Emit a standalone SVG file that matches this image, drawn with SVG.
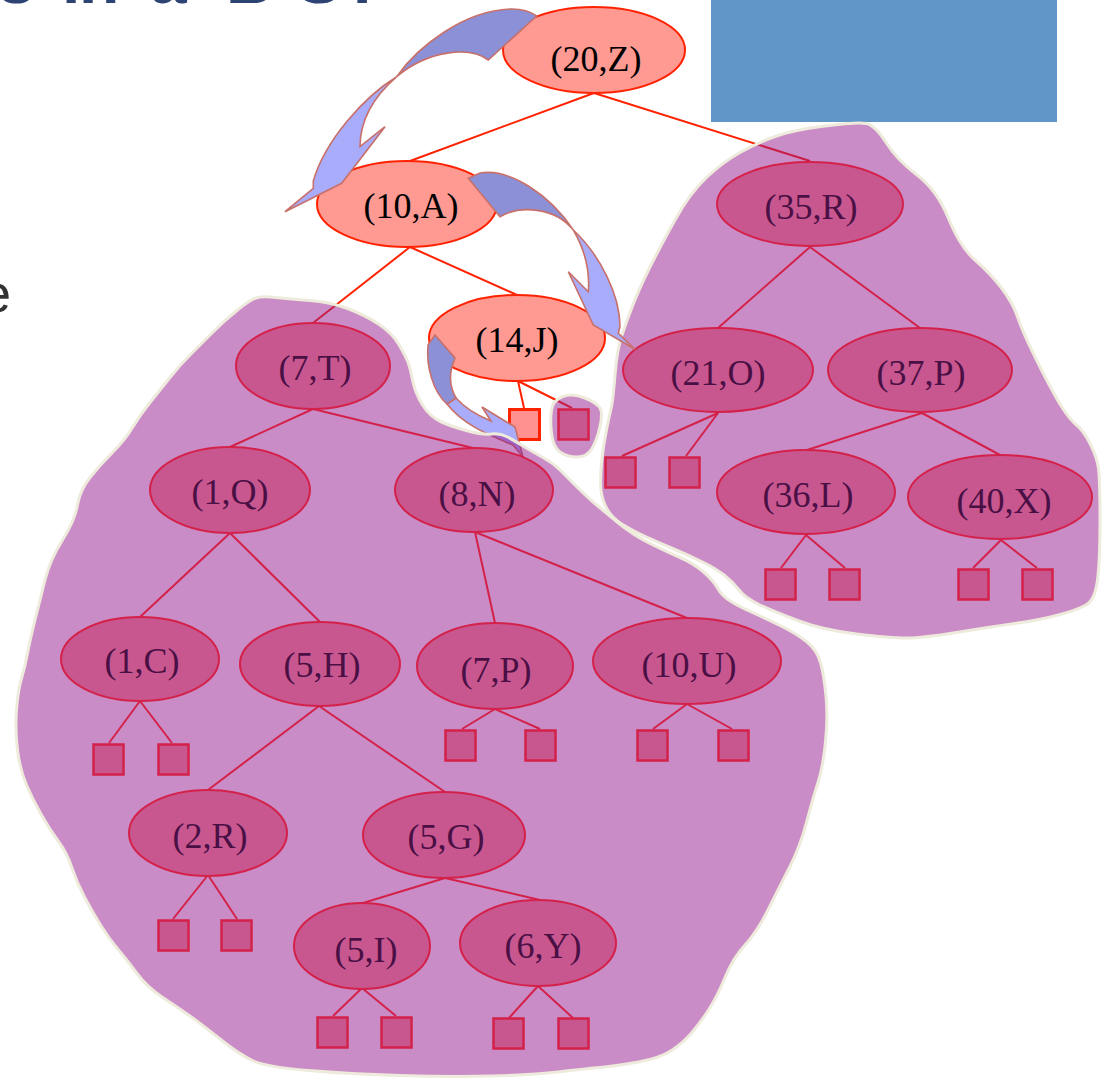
<svg xmlns="http://www.w3.org/2000/svg" width="1102" height="1078" viewBox="0 0 1102 1078">
  <style>
    .title { font-family: "Liberation Sans", Arial, sans-serif; font-weight: bold; font-size: 66px; fill: #2c4373; }
    .body { font-family: "Liberation Sans", Arial, sans-serif; font-size: 54px; fill: #333333; }
    .lbl { font-family: "Liberation Serif", "Times New Roman", serif; font-size: 36px; text-anchor: middle; }
    .hot ellipse { fill: #ff9a93; stroke: #ff2200; stroke-width: 2; }
    .hot text { fill: #000000; }
    .sub ellipse { fill: #c9578f; stroke: #d4214a; stroke-width: 2; }
    .sub text { fill: #4a1045; }
    .leaf { fill: #c9578f; stroke: #d4214a; stroke-width: 2.5; }
    .leafhot { fill: #ff9090; stroke: #ff2200; stroke-width: 3; }
    .edge-hot line { stroke: #ff2200; stroke-width: 2; }
    .edge-sub line { stroke: #d4214a; stroke-width: 2; }
    .blob { fill: #93198d; fill-opacity: 0.5; stroke: #eeeadc; stroke-width: 3; stroke-linejoin: round; }
    .arw-dark { fill: #8c90d6; stroke: #c8706a; stroke-width: 1.6; stroke-linejoin: miter; }
    .arw-light { fill: #a9acfa; stroke: #c8706a; stroke-width: 1.6; stroke-linejoin: miter; }
  </style>

  <!-- slide heading and body text, cropped by the page edge -->
  <text class="title" x="-2 30 62 79 120 150 195 226 297 342" y="3">s in a BST</text>
  <text class="body" x="11" y="312" text-anchor="end">e</text>
  <rect x="711" y="0" width="346" height="122" fill="#6097c8"/>

  <!-- connectors of the search path (the two long ones pass under the shading) -->
  <g id="connectors-top" class="edge-hot">
    <line x1="594" y1="93" x2="410" y2="161"/>
    <line x1="594" y1="93" x2="810" y2="161"/>
    <line x1="410" y1="247" x2="313" y2="323"/>
    <line x1="410" y1="247" x2="517" y2="295"/>
    <line x1="518" y1="381" x2="524" y2="408"/>
    <line x1="518" y1="381" x2="572" y2="408"/>
  </g>

  <!-- search path nodes -->
  <g id="node-20Z" class="hot">
    <ellipse cx="594" cy="50" rx="91" ry="43"/>
    <text class="lbl" x="596" y="71">(20,Z)</text>
  </g>
  <g id="node-10A" class="hot">
    <ellipse cx="407" cy="204" rx="90" ry="43"/>
    <text class="lbl" x="411" y="218">(10,A)</text>
  </g>
  <g id="node-14J" class="hot">
    <ellipse cx="517" cy="338" rx="88" ry="43"/>
    <text class="lbl" x="517" y="352">(14,J)</text>
  </g>
  <g id="leaf-14J-left">
    <rect class="leafhot" x="509.5" y="409.5" width="30" height="30"/>
  </g>

  <!-- walk arrow from (14,J) down toward (8,N), partly under the subtree shading -->
  <g id="arrow-14J">
    <path class="arw-light" d="M447,404 L456,398 C463,406 474,414 491,421 L482,407 L500,418 L515,427 L523,457 L513,445 C492,436 464,426 447,404 Z"/>
    <path class="arw-dark" d="M435,335 L455,358 C449,372 449,386 456,398 L447,404 C433,392 426,366 428,345 Z"/>
  </g>

  <!-- shaded subtrees -->
  <path id="blob-left" class="blob" d="M256,298 Q262,296 276,297.5 Q290,299 310,300.5 Q330,302 347.5,308.5 Q365,315 378.5,324 Q392,333 398.5,344 Q405,355 407.5,361 Q410,367 412.5,380 Q415,393 422.5,405 Q430,417 441.5,422 Q453,427 468,431 Q483,435 491.5,434 Q500,433 506.5,436.5 Q513,440 523,446 Q533,452 543,457.5 Q553,463 560,470 Q567,477 576,486 Q585,495 592.5,501.5 Q600,508 616.5,521.5 Q633,535 650,543.5 Q667,552 680,557.5 Q693,563 703,571.5 Q713,580 717.5,588 Q722,596 731,601.5 Q740,607 753.5,613 Q767,619 782,626.5 Q797,634 807,642 Q817,650 820.5,662.5 Q824,675 826,696 Q828,717 825.5,742 Q823,767 818,782.5 Q813,798 806.5,822.5 Q800,847 790,866.5 Q780,886 768.5,909 Q757,932 745,945 Q733,958 725,977.5 Q717,997 708.5,1010 Q700,1023 691.5,1033 Q683,1043 671.5,1050.5 Q660,1058 638.5,1062 Q617,1066 600,1067.5 Q583,1069 558,1072 Q533,1075 491.5,1076 Q450,1077 400,1075.5 Q350,1074 308.5,1070.5 Q267,1067 253.5,1061 Q240,1055 220,1039 Q200,1023 188.5,1015 Q177,1007 162,997 Q147,987 137,973.5 Q127,960 118.5,950 Q110,940 101.5,926.5 Q93,913 85,898 Q77,883 72,868 Q67,853 58.5,841.5 Q50,830 41.5,815 Q33,800 26.5,785 Q20,770 17.5,750 Q15,730 16.5,710 Q18,690 21.5,678.5 Q25,667 27.5,653.5 Q30,640 35,620 Q40,600 45,580 Q50,560 62.5,540 Q75,520 77.5,505 Q80,490 90,477.5 Q100,465 112.5,452.5 Q125,440 132.5,427.5 Q140,415 150,402.5 Q160,390 170,377.5 Q180,365 190,355 Q200,345 212.5,332.5 Q225,320 237.5,310 Q250,300 256,298 Z"/>
  <path id="blob-right" class="blob" d="M825,126 Q857,122 866,123.5 Q875,125 886,142.5 Q897,160 917,175 Q937,190 948.5,218.5 Q960,247 975,260 Q990,273 1001.5,288 Q1013,303 1018,318 Q1023,333 1038,363 Q1053,393 1061.5,406.5 Q1070,420 1076.5,425 Q1083,430 1090,443.5 Q1097,457 1098.5,468.5 Q1100,480 1100,520 Q1100,560 1097.5,580 Q1095,600 1086,605 Q1077,610 1058.5,615 Q1040,620 1015,623.5 Q990,627 956.5,632.5 Q923,638 906.5,638 Q890,638 856.5,634 Q823,630 799,621 Q775,612 760,605 Q745,598 739,590 Q733,582 724,575 Q715,568 702.5,562 Q690,556 675,549.5 Q660,543 646.5,537 Q633,531 622.5,524.5 Q612,518 607,509 Q602,500 601,490 Q600,480 601.5,463.5 Q603,447 606.5,430 Q610,413 611.5,406.5 Q613,400 615,375 Q617,350 622,335 Q627,320 633.5,303.5 Q640,287 650,267 Q660,247 675,220 Q690,193 706.5,177.5 Q723,162 740,152.5 Q757,143 775,136.5 Q793,130 825,126 Z"/>
  <path id="blob-small" class="blob" d="M551.5,410 Q553,400 563,396.5 Q573,393 585,398 Q597,403 600,408 Q603,413 600,426.5 Q597,440 592,448.5 Q587,457 577,457 Q567,457 560,452 Q553,447 551.5,433.5 Q550,420 551.5,410 Z"/>

  <!-- subtree connectors -->
  <g id="connectors" class="edge-sub">
    <line x1="810" y1="247" x2="718" y2="328"/>
    <line x1="810" y1="247" x2="920" y2="328"/>
    <line x1="718" y1="413" x2="622" y2="456"/>
    <line x1="718" y1="413" x2="686" y2="456"/>
    <line x1="922" y1="413" x2="807" y2="450"/>
    <line x1="922" y1="413" x2="1000" y2="455"/>
    <line x1="806" y1="535" x2="781" y2="568"/>
    <line x1="806" y1="535" x2="845" y2="568"/>
    <line x1="1001" y1="540" x2="973" y2="568"/>
    <line x1="1001" y1="540" x2="1037" y2="568"/>
    <line x1="313" y1="409" x2="230" y2="447"/>
    <line x1="313" y1="409" x2="473" y2="448"/>
    <line x1="230" y1="533" x2="140" y2="617"/>
    <line x1="230" y1="533" x2="320" y2="622"/>
    <line x1="475" y1="532" x2="495" y2="623"/>
    <line x1="475" y1="532" x2="687" y2="618"/>
    <line x1="140" y1="701" x2="109" y2="743"/>
    <line x1="140" y1="701" x2="172" y2="743"/>
    <line x1="319" y1="706" x2="208" y2="790"/>
    <line x1="319" y1="706" x2="445" y2="792"/>
    <line x1="495" y1="709" x2="462" y2="729"/>
    <line x1="495" y1="709" x2="540" y2="729"/>
    <line x1="687" y1="704" x2="653" y2="729"/>
    <line x1="687" y1="704" x2="732" y2="729"/>
    <line x1="208" y1="875" x2="173" y2="919"/>
    <line x1="208" y1="875" x2="237" y2="919"/>
    <line x1="445" y1="878" x2="363" y2="903"/>
    <line x1="445" y1="878" x2="540" y2="900"/>
    <line x1="362" y1="988" x2="333" y2="1016"/>
    <line x1="362" y1="988" x2="396" y2="1016"/>
    <line x1="538" y1="986" x2="509" y2="1018"/>
    <line x1="538" y1="986" x2="573" y2="1018"/>
  </g>

  <!-- right subtree -->
  <g id="node-35R" class="sub"><ellipse cx="810" cy="204" rx="93" ry="42"/><text class="lbl" x="811" y="219">(35,R)</text></g>
  <g id="node-21O" class="sub"><ellipse cx="718" cy="370" rx="95" ry="42"/><text class="lbl" x="718" y="385">(21,O)</text></g>
  <g id="node-37P" class="sub"><ellipse cx="920" cy="370" rx="92" ry="42"/><text class="lbl" x="921" y="385">(37,P)</text></g>
  <g id="node-36L" class="sub"><ellipse cx="806" cy="492" rx="89" ry="42"/><text class="lbl" x="808" y="507">(36,L)</text></g>
  <g id="node-40X" class="sub"><ellipse cx="1000" cy="497" rx="92" ry="42"/><text class="lbl" x="1004" y="513">(40,X)</text></g>

  <!-- left subtree -->
  <g id="node-7T" class="sub"><ellipse cx="313" cy="366" rx="77" ry="43"/><text class="lbl" x="315" y="380">(7,T)</text></g>
  <g id="node-1Q" class="sub"><ellipse cx="230" cy="490" rx="80" ry="43"/><text class="lbl" x="230" y="504">(1,Q)</text></g>
  <g id="node-8N" class="sub"><ellipse cx="474" cy="490" rx="79" ry="42"/><text class="lbl" x="477" y="506">(8,N)</text></g>
  <g id="node-1C" class="sub"><ellipse cx="140" cy="659" rx="79" ry="42"/><text class="lbl" x="142" y="673">(1,C)</text></g>
  <g id="node-5H" class="sub"><ellipse cx="320" cy="664" rx="80" ry="42"/><text class="lbl" x="322" y="677">(5,H)</text></g>
  <g id="node-7P" class="sub"><ellipse cx="495" cy="666" rx="78" ry="43"/><text class="lbl" x="496" y="682">(7,P)</text></g>
  <g id="node-10U" class="sub"><ellipse cx="687" cy="661" rx="94" ry="43"/><text class="lbl" x="689" y="677">(10,U)</text></g>
  <g id="node-2R" class="sub"><ellipse cx="208" cy="833" rx="79" ry="43"/><text class="lbl" x="210" y="848">(2,R)</text></g>
  <g id="node-5G" class="sub"><ellipse cx="444" cy="835" rx="81" ry="43"/><text class="lbl" x="446" y="849">(5,G)</text></g>
  <g id="node-5I" class="sub"><ellipse cx="362" cy="946" rx="68" ry="43"/><text class="lbl" x="366" y="962">(5,I)</text></g>
  <g id="node-6Y" class="sub"><ellipse cx="538" cy="943" rx="78" ry="43"/><text class="lbl" x="543" y="958">(6,Y)</text></g>

  <!-- external (empty) leaves -->
  <g id="leaves">
    <rect class="leaf" x="558.5" y="409.5" width="30" height="30"/>
    <rect class="leaf" x="605.5" y="457.5" width="30" height="30"/>
    <rect class="leaf" x="669.5" y="457.5" width="30" height="30"/>
    <rect class="leaf" x="765.5" y="569.5" width="30" height="30"/>
    <rect class="leaf" x="829.5" y="569.5" width="30" height="30"/>
    <rect class="leaf" x="958.5" y="569.5" width="30" height="30"/>
    <rect class="leaf" x="1022.5" y="569.5" width="30" height="30"/>
    <rect class="leaf" x="93.5" y="744.5" width="30" height="30"/>
    <rect class="leaf" x="158.5" y="744.5" width="30" height="30"/>
    <rect class="leaf" x="445.5" y="730.5" width="30" height="30"/>
    <rect class="leaf" x="525.5" y="730.5" width="30" height="30"/>
    <rect class="leaf" x="637.5" y="730.5" width="30" height="30"/>
    <rect class="leaf" x="718.5" y="730.5" width="30" height="30"/>
    <rect class="leaf" x="158.5" y="920.5" width="30" height="30"/>
    <rect class="leaf" x="221.5" y="920.5" width="30" height="30"/>
    <rect class="leaf" x="317.5" y="1017.5" width="30" height="30"/>
    <rect class="leaf" x="381.5" y="1017.5" width="30" height="30"/>
    <rect class="leaf" x="493.5" y="1018.5" width="30" height="30"/>
    <rect class="leaf" x="558.5" y="1018.5" width="30" height="30"/>
  </g>

  <!-- walk arrow (20,Z) -> (10,A) -->
  <g id="arrow-20Z">
    <path class="arw-dark" d="M536.7,16 L488.3,60 C470,46 428,50 396.7,76.7 C418,46 465,10 512,9 C522,9 531,12 536.7,16 Z"/>
    <path class="arw-light" d="M396.7,76.7 C365,96 325,140 313.3,181 L313.3,188.3 L285,211.7 L341.7,183.3 L385,126.7 L360,146.7 C360,125 370,100 396.7,76.7 Z"/>
  </g>

  <!-- walk arrow (10,A) -> (21,O) -->
  <g id="arrow-10A">
    <path class="arw-dark" d="M468.3,178.3 L500,216.7 C520,205 555,207 573.3,230 C550,195 510,168 480,173 Z"/>
    <path class="arw-light" d="M573.3,230 C600,255 620,295 620,326.7 L618.3,333.3 L635,349.3 L593.3,325 L568.3,271.7 L588.3,291.7 C590,270 585,250 573.3,230 Z"/>
  </g>
</svg>
